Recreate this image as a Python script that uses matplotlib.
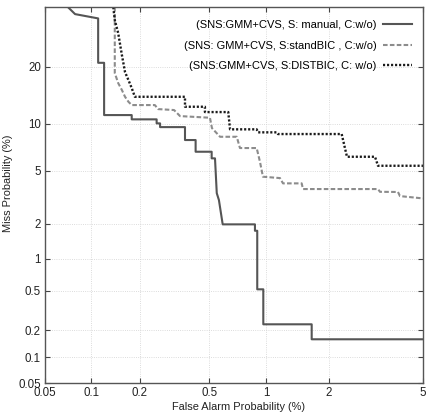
import numpy as np
import matplotlib
matplotlib.use('Agg')
import matplotlib.pyplot as plt
from matplotlib.ticker import NullLocator
from statistics import NormalDist

plt.rcParams['font.family'] = ['Liberation Sans', 'DejaVu Sans']

# DET curves, values in %
manual_fa = [0.071, 0.079, 0.111, 0.111, 0.121, 0.121, 0.179, 0.179, 0.252, 0.252, 0.264, 0.264,
             0.367, 0.367, 0.421, 0.421, 0.516, 0.516, 0.538, 0.55, 0.565, 0.592, 0.874, 0.874,
             0.898, 0.898, 0.964, 0.964, 1.661, 1.661, 5.0]
manual_miss = [35.27, 33.28, 32.08, 20.92, 20.92, 11.24, 11.24, 10.62, 10.62, 10.06, 10.06, 9.56,
               9.56, 7.97, 7.97, 6.71, 6.71, 6.07, 6.07, 3.45, 3.06, 1.97, 1.97, 1.745,
               1.745, 0.519, 0.519, 0.23, 0.23, 0.159, 0.159]

stdbic_fa = [0.141, 0.141, 0.141, 0.148, 0.156, 0.163, 0.171, 0.179, 0.246, 0.257, 0.318, 0.344,
             0.505, 0.518, 0.573, 0.703, 0.731, 0.892, 0.927, 0.96, 1.168, 1.209, 1.489, 1.511,
             3.283, 3.347, 3.974, 4.049, 5.0]
stdbic_miss = [35.27, 31.61, 18.71, 16.70, 15.38, 14.18, 13.33, 12.79, 12.79, 12.15, 12.0, 11.09,
               10.85, 9.43, 8.35, 8.35, 7.09, 7.09, 5.76, 4.54, 4.44, 4.07, 4.07, 3.7,
               3.7, 3.53, 3.52, 3.28, 3.15]

distbic_fa = [0.138, 0.141, 0.148, 0.156, 0.163, 0.171, 0.179, 0.187, 0.367, 0.367, 0.474, 0.474,
              0.634, 0.648, 0.892, 0.906, 1.125, 1.142, 2.281, 2.409, 3.188, 3.283, 5.0]
distbic_miss = [35.27, 31.61, 28.12, 22.68, 18.91, 17.29, 15.75, 14.18, 14.18, 12.52, 12.52, 11.69,
                11.69, 9.27, 9.27, 8.89, 8.89, 8.68, 8.68, 6.22, 6.22, 5.41, 5.41]

labels = ['(SNS:GMM+CVS, S: manual, C:w/o)',
          '(SNS: GMM+CVS, S:standBIC , C:w/o)',
          '(SNS:GMM+CVS, S:DISTBIC, C: w/o)']

x_ticks = [0.05, 0.1, 0.2, 0.5, 1, 2, 5]
y_ticks = [0.05, 0.1, 0.2, 0.5, 1, 2, 5, 10, 20]

# normal deviate (probit) axes for the DET plot
nd = NormalDist()
_ppf = np.vectorize(lambda p: nd.inv_cdf(min(max(p / 100.0, 1e-9), 1 - 1e-9)), otypes=[float])
_cdf = np.vectorize(lambda z: nd.cdf(z) * 100.0, otypes=[float])

def fwd(v):
    return _ppf(np.asarray(v, dtype=float))

def inv(v):
    return _cdf(np.asarray(v, dtype=float))

fig = plt.figure(figsize=(4.31, 4.15), dpi=100)
ax = fig.add_axes([0.1044, 0.0764, 0.8770, 0.9067])
ax.set_xscale('function', functions=(fwd, inv))
ax.set_yscale('function', functions=(fwd, inv))

ax.plot(manual_fa, manual_miss, color='#555555', lw=1.5, ls='-', label=labels[0])
ax.plot(stdbic_fa, stdbic_miss, color='#8c8c8c', lw=1.5, ls=(0, (2.2, 1.1)), label=labels[1])
ax.plot(distbic_fa, distbic_miss, color='#1a1a1a', lw=1.7, ls=(0, (0.9, 0.8)), label=labels[2])

ax.set_xlim(0.05, 5)
ax.set_ylim(0.05, 35.3)
ax.set_xticks(x_ticks)
ax.set_xticklabels([str(t) for t in x_ticks])
ax.set_yticks(y_ticks)
ax.set_yticklabels([str(t) for t in y_ticks])
ax.xaxis.set_minor_locator(NullLocator())
ax.yaxis.set_minor_locator(NullLocator())

ax.grid(True, color='#d0d0d0', lw=0.6, ls=':')
ax.tick_params(direction='in', top=True, right=True, length=3.5, width=0.8,
               labelsize=8.3, colors='#444444', labelcolor='#222222', pad=3)
for s in ax.spines.values():
    s.set_color('#555555')
    s.set_linewidth(1.0)

ax.set_xlabel('False Alarm Probability (%)', fontsize=7.9, color='#222222')
ax.set_ylabel('Miss Probability (%)', fontsize=7.9, color='#222222')
ax.xaxis.set_label_coords(0.511, -0.05)
ax.yaxis.set_label_coords(-0.085, 0.531)

ax.legend(loc='upper right', frameon=False, markerfirst=False, fontsize=8,
          handlelength=2.6, handletextpad=0.6, labelspacing=0.95,
          borderaxespad=0.6, bbox_to_anchor=(1.0, 0.995))

fig.savefig('out.png', dpi=100)
